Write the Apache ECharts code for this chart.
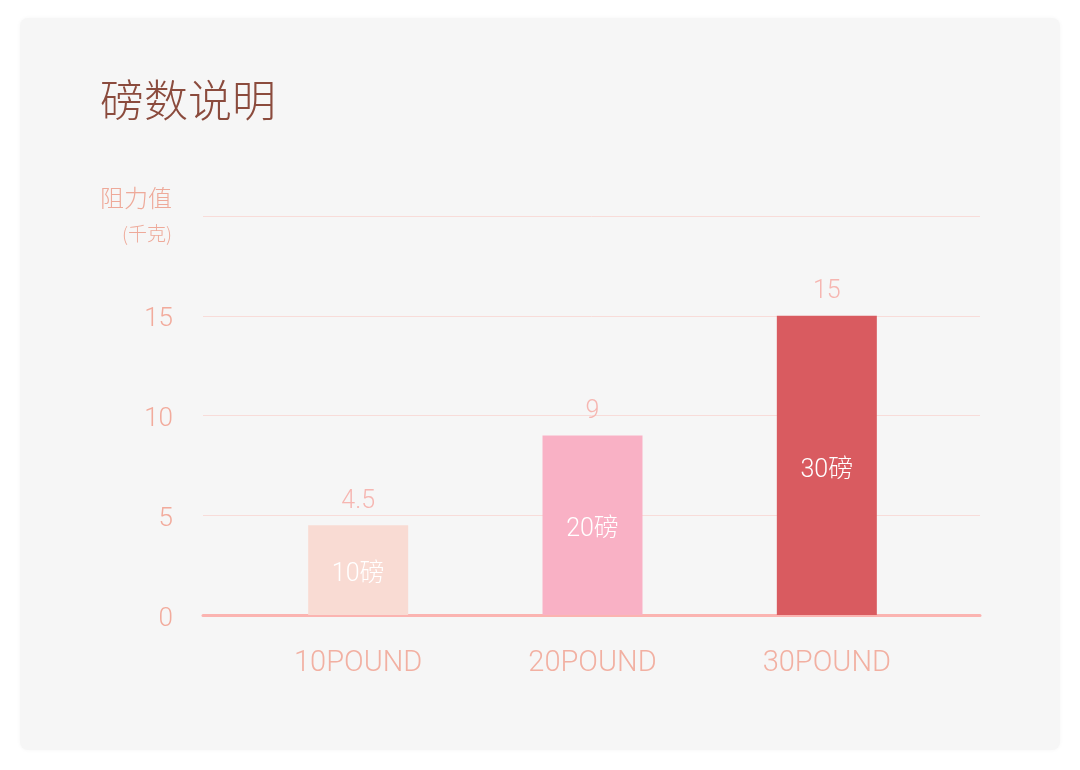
<!DOCTYPE html>
<html>
<head>
<meta charset="utf-8">
<style>html,body{margin:0;padding:0;background:#fff;}#c{width:1080px;height:770px;}</style>
<script src="https://cdn.jsdelivr.net/npm/echarts@6/dist/echarts.min.js"></script>
</head>
<body>
<div id="c"></div>
<script>
const categories = ['10POUND', '20POUND', '30POUND'];
const innerLabels = ['10磅', '20磅', '30磅'];
const values = [4.5, 9, 15];
const barColors = ['#f9dbd3', '#f9b1c5', '#d95b60'];
const yTicks = [0, 5, 10, 15, 20];

const FONT = "'Noto Sans CJK SC', 'Noto Sans', sans-serif";
const LATIN = "Roboto, 'Noto Sans CJK SC', sans-serif";
const chart = echarts.init(document.getElementById('c'));
chart.setOption({
  backgroundColor: '#ffffff',
  textStyle: { fontFamily: FONT },
  graphic: [{
    type: 'rect', z: -10, silent: true,
    shape: { x: 20, y: 18, width: 1040, height: 732, r: 8 },
    style: { fill: '#f6f6f6', shadowBlur: 4, shadowColor: 'rgba(0,0,0,0.04)' }
  }],
  title: {
    text: '磅数说明', left: 95, top: 73,
    textStyle: { color: '#8b4b3d', fontSize: 44, fontWeight: 300, fontFamily: FONT }
  },
  grid: [
    { left: 203, right: 100, top: 216, bottom: 155 },
    { left: 241, width: 703, top: 216, bottom: 155 }
  ],
  xAxis: [
    { gridIndex: 0, type: 'category', data: [''],
      axisLine: { lineStyle: { color: '#fbb4b1', width: 3 } },
      axisTick: { show: false }, axisLabel: { show: false } },
    { gridIndex: 1, type: 'category', data: categories,
      axisLine: { show: false }, axisTick: { show: false },
      axisLabel: { color: '#f2b0a2', fontSize: 29, margin: 34, fontWeight: 300, fontFamily: LATIN } }
  ],
  yAxis: [
    { gridIndex: 0, type: 'value', min: yTicks[0], max: yTicks[yTicks.length - 1], interval: 5,
      axisLine: { show: false }, axisTick: { show: false },
      splitLine: { lineStyle: { color: '#f8dcd9', width: 1 } },
      axisLabel: { color: '#f2ab9c', fontSize: 26, margin: 30, fontWeight: 300, fontFamily: LATIN,
        formatter: v => (v === 20 ? '' : '{v|' + v + '}'),
        rich: { v: { fontSize: 26, color: '#f2ab9c', fontWeight: 300, fontFamily: LATIN, padding: [8, 0, 0, 0] } } },
      name: '{a|阻力值}\n{b|(千克)}',
      nameLocation: 'end', nameGap: 0,
      nameTextStyle: {
        align: 'right', verticalAlign: 'middle', padding: [0, 31, 0, 0],
        rich: {
          a: { fontSize: 24, color: '#eea999', lineHeight: 36, fontFamily: FONT, fontWeight: 300, align: 'right' },
          b: { fontSize: 19, color: '#eea999', lineHeight: 36, fontFamily: FONT, fontWeight: 300, align: 'right' }
        }
      } },
    { gridIndex: 1, type: 'value', min: yTicks[0], max: yTicks[yTicks.length - 1], interval: 5, show: false }
  ],
  series: [
    { type: 'bar', xAxisIndex: 1, yAxisIndex: 1, barWidth: 100,
      data: values.map((v, i) => ({ value: v, itemStyle: { color: barColors[i] } })),
      label: { show: true, position: 'inside', color: '#ffffff', fontSize: 25, fontWeight: 300, fontFamily: LATIN,
        offset: [0, 5],
        formatter: p => innerLabels[p.dataIndex] },
      silent: true, animation: false },
    { type: 'bar', xAxisIndex: 1, yAxisIndex: 1, barWidth: 100, barGap: '-100%',
      data: values, itemStyle: { color: 'rgba(0,0,0,0)' },
      label: { show: true, position: 'top', distance: 11, color: '#f6b6b1', fontSize: 25, fontWeight: 300, fontFamily: LATIN },
      silent: true, animation: false }
  ]
});
</script>
</body>
</html>
